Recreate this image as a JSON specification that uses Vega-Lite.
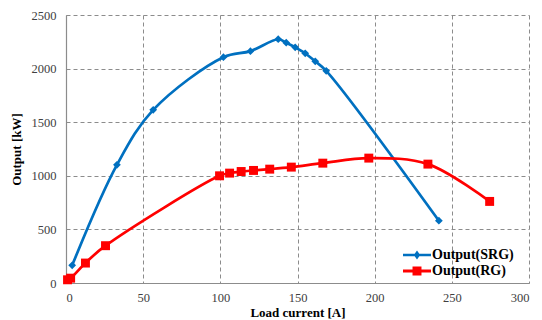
{
  "$schema": "https://vega.github.io/schema/vega-lite/v6.json",
  "width": 463,
  "height": 268,
  "autosize": "none",
  "padding": {"left": 66, "top": 15, "right": 13, "bottom": 37},
  "background": "white",
  "config": {
    "font": "Liberation Serif",
    "view": {"stroke": null},
    "axis": {
      "labelFont": "Liberation Serif",
      "labelFontSize": 12.5,
      "labelColor": "#404040",
      "titleFont": "Liberation Serif",
      "titleFontSize": 13,
      "titleFontWeight": "bold",
      "titleColor": "#000000",
      "domainColor": "#8c8c8c",
      "domainWidth": 1.2,
      "gridColor": "#8c8c8c",
      "gridDash": [4, 3],
      "gridWidth": 1,
      "ticks": false
    }
  },
  "data": {
    "values": [
      {"series": "Output(SRG)", "current": 4, "power": 165},
      {"series": "Output(SRG)", "current": 33, "power": 1102},
      {"series": "Output(SRG)", "current": 56.5, "power": 1615},
      {"series": "Output(SRG)", "current": 102, "power": 2106},
      {"series": "Output(SRG)", "current": 119.5, "power": 2163},
      {"series": "Output(SRG)", "current": 137.5, "power": 2274},
      {"series": "Output(SRG)", "current": 142.7, "power": 2242},
      {"series": "Output(SRG)", "current": 148.5, "power": 2199},
      {"series": "Output(SRG)", "current": 155, "power": 2143},
      {"series": "Output(SRG)", "current": 161.5, "power": 2068},
      {"series": "Output(SRG)", "current": 168.6, "power": 1979},
      {"series": "Output(SRG)", "current": 241.6, "power": 581},
      {"series": "Output(RG)", "current": 1, "power": 30},
      {"series": "Output(RG)", "current": 3, "power": 45},
      {"series": "Output(RG)", "current": 12.6, "power": 186},
      {"series": "Output(RG)", "current": 25.6, "power": 348},
      {"series": "Output(RG)", "current": 99.5, "power": 1000},
      {"series": "Output(RG)", "current": 106, "power": 1025},
      {"series": "Output(RG)", "current": 113.5, "power": 1040},
      {"series": "Output(RG)", "current": 121.5, "power": 1050},
      {"series": "Output(RG)", "current": 132, "power": 1062},
      {"series": "Output(RG)", "current": 146, "power": 1081},
      {"series": "Output(RG)", "current": 166.4, "power": 1118},
      {"series": "Output(RG)", "current": 196.2, "power": 1165},
      {"series": "Output(RG)", "current": 234.5, "power": 1109},
      {"series": "Output(RG)", "current": 274.5, "power": 761}
    ]
  },
  "encoding": {
    "x": {
      "field": "current",
      "type": "quantitative",
      "scale": {"domain": [0, 300], "nice": false, "zero": false},
      "axis": {"values": [0, 50, 100, 150, 200, 250, 300], "format": "d", "labelFont": "Liberation Serif", "title": "Load current  [A]", "titlePadding": 3, "labelPadding": 8}
    },
    "y": {
      "field": "power",
      "type": "quantitative",
      "scale": {"domain": [0, 2500], "nice": false},
      "axis": {"values": [0, 500, 1000, 1500, 2000, 2500], "format": "d", "labelFont": "Liberation Serif", "title": "Output  [kW]", "titlePadding": 8, "labelPadding": 10}
    }
  },
  "layer": [
    {
      "mark": {"type": "line", "interpolate": "catmull-rom", "strokeWidth": 2.7},
      "encoding": {
        "color": {
          "field": "series",
          "type": "nominal",
          "scale": {"domain": ["Output(SRG)", "Output(RG)"], "range": ["#0070C0", "#FF0000"]},
          "legend": {
            "title": null,
            "orient": "none",
            "legendX": 341,
            "legendY": 230,
            "labelFont": "Liberation Serif",
            "labelFontSize": 14,
            "labelFontWeight": "bold",
            "labelColor": "#000000",
            "symbolSize": 256,
            "rowPadding": 1,
            "labelOffset": 7,
            "padding": 2,
            "encode": {
              "symbols": {
                "update": {
                  "shape": {"signal": "datum.value === 'Output(SRG)' ? 'M-1.75,-0.17H1.75V0.17H-1.75Z M0,-0.55L0.4,0L0,0.55L-0.4,0Z' : 'M-1.75,-0.19H1.75V0.19H-1.75Z M-0.56,-0.56H0.56V0.56H-0.56Z'"},
                  "size": {"value": 256},
                  "fill": {"scale": "color", "field": "value"},
                  "fillOpacity": {"value": 1},
                  "strokeWidth": {"value": 0}
                }
              }
            }
          }
        }
      }
    },
    {
      "transform": [{"filter": {"field": "series", "equal": "Output(SRG)"}}],
      "mark": {"type": "point", "filled": true, "opacity": 1, "shape": "diamond", "size": 60, "color": "#0070C0"},
      "encoding": {}
    },
    {
      "transform": [{"filter": {"field": "series", "equal": "Output(RG)"}}],
      "mark": {"type": "point", "filled": true, "opacity": 1, "shape": "square", "size": 80, "color": "#FF0000"},
      "encoding": {}
    }
  ]
}
